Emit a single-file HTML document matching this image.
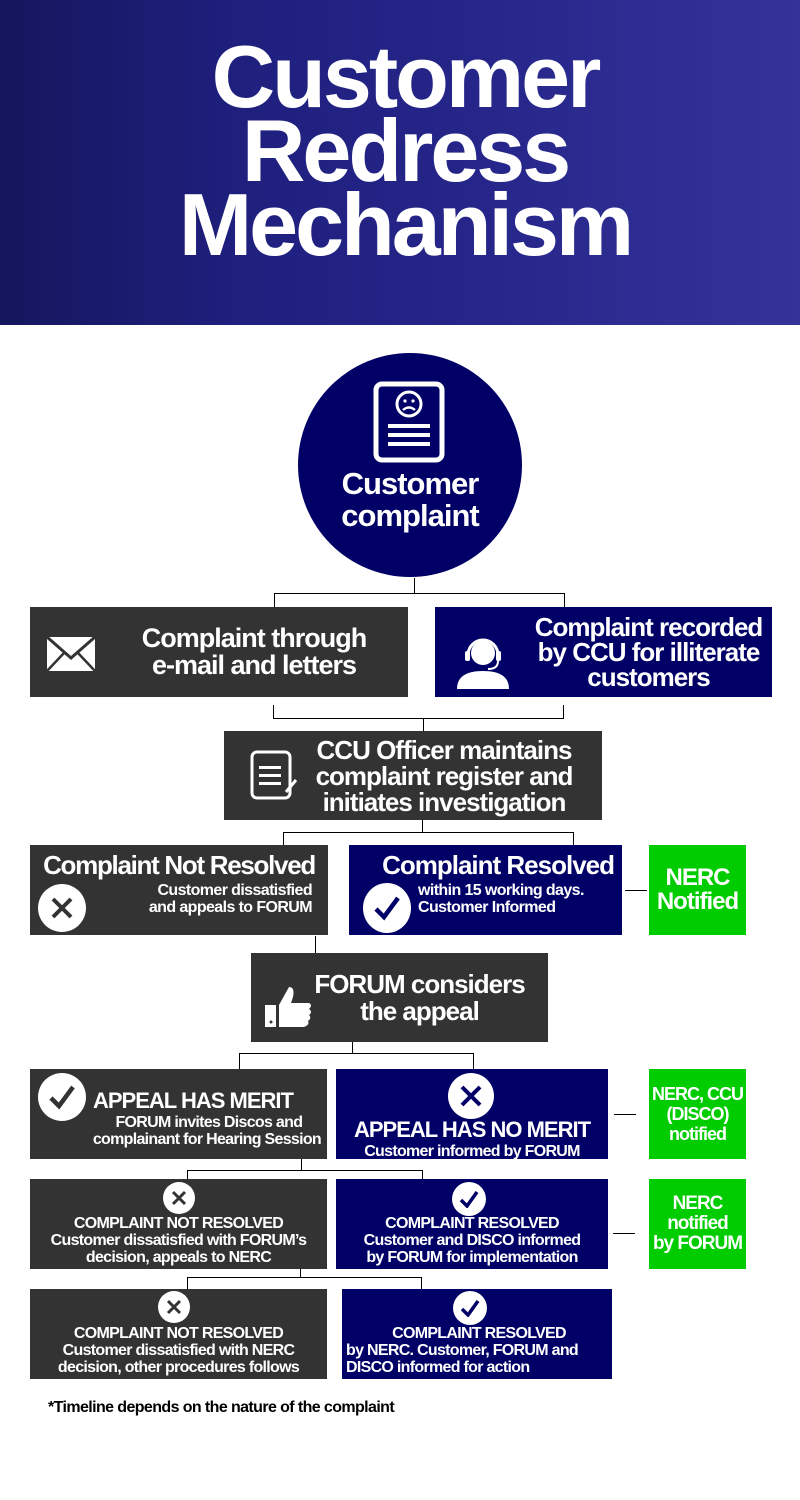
<!DOCTYPE html>
<html><head><meta charset="utf-8"><style>
*{margin:0;padding:0;box-sizing:border-box}
body{width:800px;height:1500px;background:#fff;position:relative;overflow:hidden;font-family:"Liberation Sans Narrow","Liberation Sans",sans-serif;font-weight:bold;color:#fff}
.a{position:absolute}
.hdr{left:0;top:0;width:800px;height:325px;background:linear-gradient(90deg,#16165e 0%,#1f1f7e 30%,#26268a 60%,#33339a 100%)}
.title{left:0;width:800px;text-align:center;font-size:88px;letter-spacing:-3px;line-height:74px;top:40px;padding-left:10px}
.d{background:#333333}.n{background:#000066}.g{background:#00cc00}
.box{display:flex;flex-direction:column;justify-content:center;align-items:center;text-align:center;line-height:1;white-space:nowrap}
.ln{background:#000}
.c{border-radius:50%;background:#fff;display:flex;align-items:center;justify-content:center}
</style></head><body>
<div class="a hdr"></div>
<div class="a title">Customer<br>Redress<br>Mechanism</div>

<div class="a" style="left:298px;top:353px;width:224px;height:224px;border-radius:50%;background:#000066"></div>
<svg class="a" style="left:372px;top:380px" width="76" height="84" viewBox="0 0 76 84"><rect x="4" y="4" width="66" height="76" rx="6" fill="none" stroke="#fff" stroke-width="5"/><circle cx="37" cy="24" r="12" fill="none" stroke="#fff" stroke-width="3"/><circle cx="33" cy="21" r="1.6" fill="#fff"/><circle cx="41" cy="21" r="1.6" fill="#fff"/><path d="M31 30q6-5 12 0" stroke="#fff" stroke-width="2.4" fill="none"/><rect x="16" y="44" width="42" height="4" fill="#fff"/><rect x="16" y="53" width="42" height="4" fill="#fff"/><rect x="16" y="62" width="42" height="4" fill="#fff"/></svg>
<div class="a" style="left:298px;top:468px;width:224px;text-align:center;font-size:31px;line-height:32px;letter-spacing:-1px">Customer<br>complaint</div>

<div class="a ln" style="left:414px;top:578px;width:1px;height:15px"></div>
<div class="a ln" style="left:274px;top:593px;width:291px;height:1px"></div>
<div class="a ln" style="left:274px;top:593px;width:1px;height:14px"></div>
<div class="a ln" style="left:564px;top:593px;width:1px;height:14px"></div>

<div class="a box d" style="left:30px;top:607px;width:378px;height:90px;padding-left:70px;font-size:27px;letter-spacing:-1px;line-height:27px">Complaint through<br>e-mail and letters</div>
<svg class="a" style="left:46px;top:636px" width="50" height="36" viewBox="0 0 50 36"><rect x="1" y="1" width="48" height="34" fill="#fff"/><path d="M1 1L25 22L49 1" stroke="#333" stroke-width="3" fill="none"/><path d="M1 35L18 17M49 35L32 17" stroke="#333" stroke-width="2.5"/></svg>
<div class="a box n" style="left:435px;top:607px;width:337px;height:90px;padding-left:90px;font-size:26px;letter-spacing:-1px;line-height:25px">Complaint recorded<br>by CCU for illiterate<br>customers</div>
<svg class="a" style="left:455px;top:633px" width="56" height="56" viewBox="0 0 56 56"><circle cx="28" cy="20" r="12" fill="#fff"/><path d="M13 22a15 15 0 0 1 30 0" stroke="#fff" stroke-width="3" fill="none"/><rect x="10" y="18" width="5" height="10" rx="2" fill="#fff"/><rect x="41" y="18" width="5" height="10" rx="2" fill="#fff"/><path d="M43 28q0 8-10 8" stroke="#fff" stroke-width="2" fill="none"/><path d="M2 56q0-18 26-18t26 18z" fill="#fff"/></svg>

<div class="a ln" style="left:273px;top:705px;width:1px;height:13px"></div>
<div class="a ln" style="left:563px;top:705px;width:1px;height:13px"></div>
<div class="a ln" style="left:273px;top:718px;width:291px;height:1px"></div>
<div class="a ln" style="left:423px;top:718px;width:1px;height:13px"></div>

<div class="a box d" style="left:224px;top:731px;width:378px;height:89px;padding-left:62px;font-size:26px;letter-spacing:-1px;line-height:26px">CCU Officer maintains<br>complaint register and<br>initiates investigation</div>
<svg class="a" style="left:250px;top:750px" width="52" height="52" viewBox="0 0 52 52"><rect x="2" y="2" width="38" height="46" rx="5" fill="none" stroke="#fff" stroke-width="3"/><rect x="9" y="16" width="22" height="3" fill="#fff"/><rect x="9" y="24" width="22" height="3" fill="#fff"/><rect x="9" y="32" width="22" height="3" fill="#fff"/><path d="M36 42l10-12" stroke="#fff" stroke-width="3"/></svg>

<div class="a ln" style="left:422px;top:820px;width:1px;height:12px"></div>
<div class="a ln" style="left:283px;top:832px;width:291px;height:1px"></div>
<div class="a ln" style="left:283px;top:832px;width:1px;height:13px"></div>
<div class="a ln" style="left:573px;top:832px;width:1px;height:13px"></div>

<div class="a d" style="left:30px;top:845px;width:298px;height:90px"></div>
<div class="a" style="left:30px;top:850px;width:298px;text-align:center;font-size:26px;letter-spacing:-1.3px;white-space:nowrap">Complaint Not Resolved</div>
<div class="a" style="left:100px;top:882px;width:220px;text-align:right;padding-right:8px;font-size:16px;line-height:17px;letter-spacing:-.6px">Customer dissatisfied<br>and appeals to FORUM</div>
<div class="a c" style="left:38px;top:884px;width:48px;height:48px"><svg width="24" height="24"><path d="M3 3L21 21M21 3L3 21" stroke="#333" stroke-width="4"/></svg></div>

<div class="a n" style="left:349px;top:845px;width:273px;height:90px"></div>
<div class="a" style="left:349px;top:850px;width:273px;text-align:right;padding-right:8px;font-size:26px;letter-spacing:-1px;white-space:nowrap">Complaint Resolved</div>
<div class="a" style="left:418px;top:882px;width:210px;font-size:16px;line-height:17px;letter-spacing:-.6px">within 15 working days.<br>Customer Informed</div>
<div class="a c" style="left:363px;top:883px;width:48px;height:50px"><svg width="28" height="26"><path d="M3 14L11 22L25 3" stroke="#000066" stroke-width="4.5" fill="none"/></svg></div>
<div class="a ln" style="left:625px;top:890px;width:22px;height:1px"></div>
<div class="a box g" style="left:649px;top:845px;width:97px;height:90px;font-size:24px;letter-spacing:-1px;line-height:24px">NERC<br>Notified</div>

<div class="a ln" style="left:315px;top:936px;width:1px;height:17px"></div>
<div class="a box d" style="left:251px;top:953px;width:297px;height:89px;padding-left:40px;font-size:26px;letter-spacing:-1px;line-height:27px">FORUM considers<br>the appeal</div>
<svg class="a" style="left:265px;top:985px" width="48" height="42" viewBox="0 0 48 42"><rect x="0" y="20" width="11" height="22" fill="#fff"/><circle cx="6" cy="37" r="1.5" fill="#333"/><path d="M14 20L24 2q6 0 4 10l-2 6h18q4 2 0 6q4 3 0 6q3 3-1 6q2 4-4 6H14z" fill="#fff"/></svg>

<div class="a ln" style="left:352px;top:1042px;width:1px;height:11px"></div>
<div class="a ln" style="left:239px;top:1053px;width:235px;height:1px"></div>
<div class="a ln" style="left:239px;top:1053px;width:1px;height:16px"></div>
<div class="a ln" style="left:473px;top:1053px;width:1px;height:16px"></div>

<div class="a d" style="left:30px;top:1069px;width:297px;height:90px"></div>
<div class="a c" style="left:38px;top:1073px;width:48px;height:48px"><svg width="28" height="26"><path d="M3 14L11 22L25 3" stroke="#333" stroke-width="4.5" fill="none"/></svg></div>
<div class="a" style="left:93px;top:1088px;font-size:22px;letter-spacing:-1px;white-space:nowrap">APPEAL HAS MERIT</div>
<div class="a" style="left:30px;top:1114px;width:297px;text-align:right;padding-right:6px;font-size:16px;line-height:17px;letter-spacing:-.7px;white-space:nowrap">FORUM invites Discos and&nbsp;&nbsp;&nbsp;&nbsp;&nbsp;<br>complainant for Hearing Session</div>

<div class="a n" style="left:336px;top:1069px;width:272px;height:90px"></div>
<div class="a c" style="left:448px;top:1073px;width:46px;height:46px"><svg width="24" height="24"><path d="M3 3L21 21M21 3L3 21" stroke="#000066" stroke-width="4"/></svg></div>
<div class="a" style="left:336px;top:1120px;width:272px;text-align:center;font-size:22px;line-height:19px;letter-spacing:-1px;white-space:nowrap">APPEAL HAS NO MERIT<br><span style="font-size:16px;letter-spacing:-.7px">Customer informed by FORUM</span></div>
<div class="a ln" style="left:614px;top:1114px;width:22px;height:1px"></div>
<div class="a box g" style="left:649px;top:1069px;width:97px;height:90px;font-size:18px;letter-spacing:-1px;line-height:20px">NERC, CCU<br>(DISCO)<br>notified</div>

<div class="a ln" style="left:301px;top:1159px;width:1px;height:11px"></div>
<div class="a ln" style="left:187px;top:1170px;width:236px;height:1px"></div>
<div class="a ln" style="left:187px;top:1170px;width:1px;height:9px"></div>
<div class="a ln" style="left:422px;top:1170px;width:1px;height:9px"></div>

<div class="a d" style="left:30px;top:1179px;width:297px;height:90px"></div>
<div class="a c" style="left:163px;top:1182px;width:32px;height:32px"><svg width="16" height="16"><path d="M2 2L14 14M14 2L2 14" stroke="#333" stroke-width="3"/></svg></div>
<div class="a" style="left:30px;top:1215px;width:297px;text-align:center;font-size:16px;line-height:17px;letter-spacing:-.7px;white-space:nowrap">COMPLAINT NOT RESOLVED<br>Customer dissatisfied with FORUM’s<br>decision, appeals to NERC</div>
<div class="a n" style="left:336px;top:1179px;width:272px;height:90px"></div>
<div class="a c" style="left:452px;top:1182px;width:34px;height:34px"><svg width="20" height="18"><path d="M2 10L8 16L18 2" stroke="#000066" stroke-width="3.5" fill="none"/></svg></div>
<div class="a" style="left:336px;top:1215px;width:272px;text-align:center;font-size:16px;line-height:17px;letter-spacing:-.7px;white-space:nowrap">COMPLAINT RESOLVED<br>Customer and DISCO informed<br>by FORUM for implementation</div>
<div class="a ln" style="left:613px;top:1233px;width:22px;height:1px"></div>
<div class="a box g" style="left:649px;top:1179px;width:97px;height:90px;font-size:19px;letter-spacing:-1px;line-height:20px">NERC<br>notified<br>by FORUM</div>

<div class="a ln" style="left:300px;top:1269px;width:1px;height:8px"></div>
<div class="a ln" style="left:187px;top:1277px;width:235px;height:1px"></div>
<div class="a ln" style="left:187px;top:1277px;width:1px;height:12px"></div>
<div class="a ln" style="left:421px;top:1277px;width:1px;height:12px"></div>

<div class="a d" style="left:30px;top:1289px;width:297px;height:90px"></div>
<div class="a c" style="left:158px;top:1291px;width:32px;height:32px"><svg width="16" height="16"><path d="M2 2L14 14M14 2L2 14" stroke="#333" stroke-width="3"/></svg></div>
<div class="a" style="left:30px;top:1325px;width:297px;text-align:center;font-size:16px;line-height:17px;letter-spacing:-.7px;white-space:nowrap">COMPLAINT NOT RESOLVED<br>Customer dissatisfied with NERC<br>decision, other procedures follows</div>
<div class="a n" style="left:342px;top:1289px;width:270px;height:90px"></div>
<div class="a c" style="left:453px;top:1291px;width:34px;height:34px"><svg width="20" height="18"><path d="M2 10L8 16L18 2" stroke="#000066" stroke-width="3.5" fill="none"/></svg></div>
<div class="a" style="left:342px;top:1325px;width:270px;text-align:left;padding-left:4px;font-size:16px;line-height:17px;letter-spacing:-.7px;white-space:nowrap"><div style="text-align:center">COMPLAINT RESOLVED</div>by NERC. Customer, FORUM and<br>DISCO informed for action</div>

<div class="a" style="left:48px;top:1399px;color:#000;font-size:16px;letter-spacing:-.6px">*Timeline depends on the nature of the complaint</div>
</body></html>
